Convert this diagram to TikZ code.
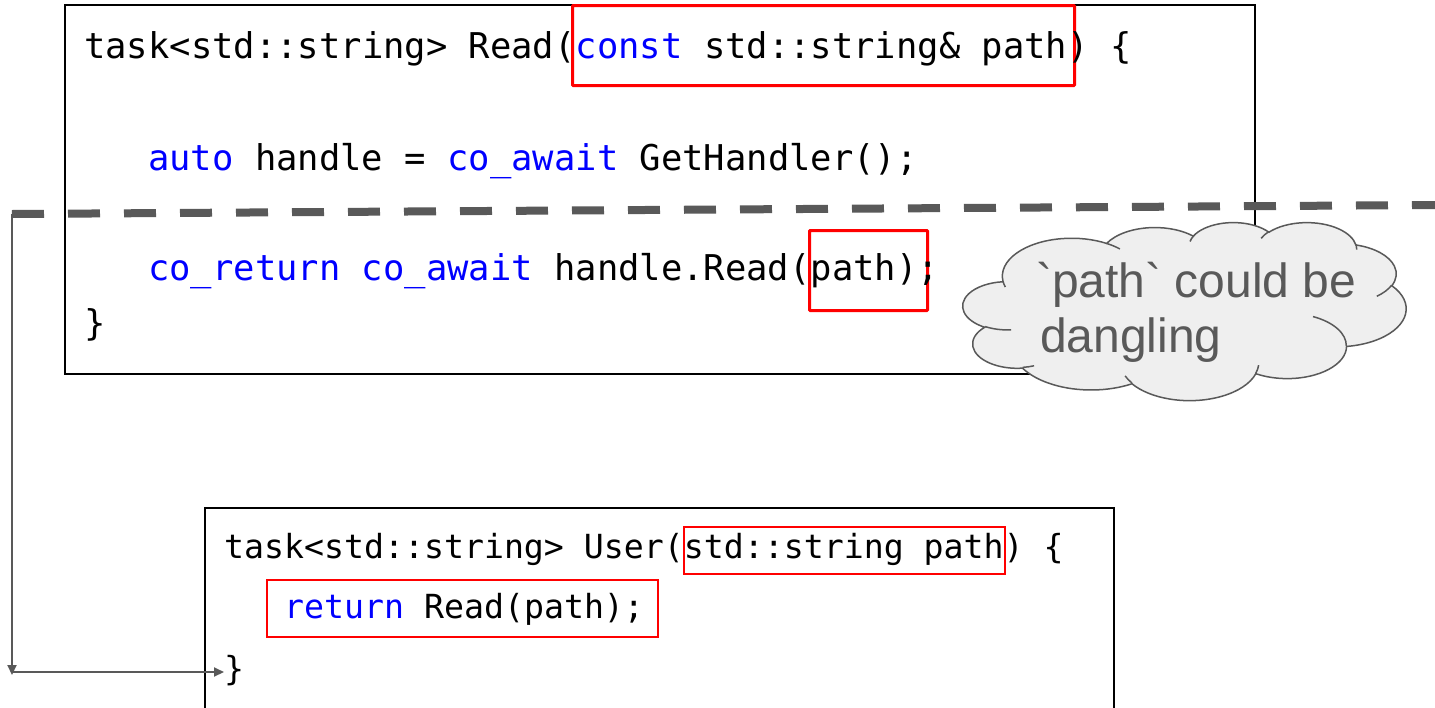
\documentclass[tikz,border=0pt]{standalone}
\usepackage{fontspec}
\usetikzlibrary{arrows.meta}
\newfontfamily\codefont{DejaVu Sans Mono}
\newfontfamily\cloudfont{Liberation Sans}
\definecolor{kw}{HTML}{0000FF}
\definecolor{dgray}{HTML}{595959}
\definecolor{cloudfill}{HTML}{EFEFEF}
\definecolor{hired}{HTML}{FF0000}
\newcommand\us{\symbol{95}}
% parametric start/end angles for an arc given by visual angles
\newcommand\ooarc[4]{%
  \pgfmathsetmacro\ooS{atan2((#1)*sin(#3),(#2)*cos(#3))}%
  \pgfmathsetmacro\ooE{atan2((#1)*sin((#3)+(#4)),(#2)*cos((#3)+(#4)))}%
  \pgfmathsetmacro\ooE{\ooE+360*ceil((\ooS-\ooE)/360)}%
}
\begin{document}
\begin{tikzpicture}[x=1pt,y=-1pt,
  codeA/.style={anchor=base west, inner sep=0pt, font=\codefont\fontsize{35.5}{40}\selectfont},
  codeB/.style={anchor=base west, inner sep=0pt, font=\codefont\fontsize{33.2}{38}\selectfont},
  codebox/.style={draw=black, line width=1.5pt, anchor=north west, inner sep=0pt},
  hlthick/.style={draw=hired, line width=3pt, anchor=north west, inner sep=0pt, rounded corners=0.8pt},
  hlthin/.style={draw=hired, line width=1.5pt, anchor=north west, inner sep=0pt},
  conn/.style={draw=dgray, line width=2pt, -{Triangle[length=10pt,width=9pt]}},
  cut/.style={draw=dgray, line width=8pt, dash pattern=on 32pt off 24pt},
  cloudline/.style={draw=dgray, line width=1.5pt},
  notetext/.style={anchor=base west, inner sep=0pt, text=dgray, font=\cloudfont\fontsize{48}{52}\selectfont}
]
\useasboundingbox (0,0) rectangle (1435,707);
\fill[white] (0,0) rectangle (1435,707);

% upper code box
\node[codebox, minimum width=1190pt, minimum height=369pt] (readbox) at (64,4) {};
\node[hlthick, minimum width=502pt, minimum height=80pt] (hlA) at (571,4) {};
\node[hlthick, minimum width=118pt, minimum height=80pt] (hlB) at (808,229) {};
\node[codeA] (r1) at (84,58) {task<std::string> Read(\textcolor{kw}{const} std::string\& path) \{};
\node[codeA] (r2) at (148,170) {\textcolor{kw}{auto} handle = \textcolor{kw}{co\us await} GetHandler();};
\node[codeA] (r3) at (148,280) {\textcolor{kw}{co\us return co\us await} handle.Read(path);};
\node[codeA] (r4) at (84,335) {\}};

% lower code box
\node[codebox, minimum width=909pt, minimum height=215pt] (userbox) at (204,507) {};
\node[hlthin, minimum width=321pt, minimum height=47pt] (hlC) at (683,526) {};
\node[hlthin, minimum width=391pt, minimum height=57pt] (hlD) at (266,579) {};
\node[codeB] (u1) at (224,558) {task<std::string> User(std::string path) \{};
\node[codeB] (u2) at (284,618) {\textcolor{kw}{return} Read(path);};
\node[codeB] (u3) at (224,680) {\}};

% connector
\coordinate (dashL) at (12,214);
\coordinate (dashR) at (1435,205);
\coordinate (corner) at (12,675);
\coordinate (cornerH) at (12,672);
\coordinate (braceIn) at (224,672);
\draw[conn] (dashL) -- (corner);
\draw[conn] (cornerH) -- (braceIn);

% suspension line
\draw[cut] (dashL) -- (dashR);

% cloud note (drawn shape)
\begin{scope}[shift={(963,222)}, x=1.02546pt, y=-0.41204pt]
  \filldraw[cloudline, fill=cloudfill] (39.00,143.70)
    \pgfextra{\ooarc{67.53}{91.90}{-190.4875}{123.7805}} arc[x radius=67.53, y radius=91.90, start angle=\ooS, end angle=\ooE]
    \pgfextra{\ooarc{53.33}{72.67}{-144.1024}{89.9452}} arc[x radius=53.33, y radius=72.67, start angle=\ooS, end angle=\ooE]
    \pgfextra{\ooarc{43.65}{59.45}{-145.8079}{99.7230}} arc[x radius=43.65, y radius=59.45, start angle=\ooS, end angle=\ooE]
    \pgfextra{\ooarc{48.57}{65.95}{-130.9861}{117.2417}} arc[x radius=48.57, y radius=65.95, start angle=\ooS, end angle=\ooE]
    \pgfextra{\ooarc{53.33}{72.73}{-78.7089}{109.0269}} arc[x radius=53.33, y radius=72.73, start angle=\ooS, end angle=\ooE]
    \pgfextra{\ooarc{67.75}{92.20}{-46.2673}{130.2690}} arc[x radius=67.75, y radius=92.20, start angle=\ooS, end angle=\ooE]
    \pgfextra{\ooarc{57.85}{78.67}{0.6250}{114.0333}} arc[x radius=57.85, y radius=78.67, start angle=\ooS, end angle=\ooE]
    \pgfextra{\ooarc{67.52}{92.15}{22.4516}{115.1726}} arc[x radius=67.52, y radius=92.15, start angle=\ooS, end angle=\ooE]
    \pgfextra{\ooarc{77.20}{105.43}{66.2426}{75.7110}} arc[x radius=77.20, y radius=105.43, start angle=\ooS, end angle=\ooE]
    \pgfextra{\ooarc{43.60}{59.18}{-274.9421}{146.7356}} arc[x radius=43.60, y radius=59.18, start angle=\ooS, end angle=\ooE]
    \pgfextra{\ooarc{43.45}{59.45}{-246.8285}{152.5189}} arc[x radius=43.45, y radius=59.45, start angle=\ooS, end angle=\ooE]
    -- cycle;
  \draw[cloudline]
    (46.93,261.77) \pgfextra{\ooarc{43.45}{59.45}{86.742}{26.4295}} arc[x radius=43.45, y radius=59.45, start angle=\ooS, end angle=\ooE]
    (69.28,348.99) \pgfextra{\ooarc{43.60}{59.18}{73.6105}{11.4475}} arc[x radius=43.60, y radius=59.18, start angle=\ooS, end angle=\ooE]
    (164.78,390.90) \pgfextra{\ooarc{67.52}{92.15}{137.6242}{14.0811}} arc[x radius=67.52, y radius=92.15, start angle=\ooS, end angle=\ooE]
    (288.27,347.51) \pgfextra{\ooarc{67.52}{92.15}{6.4533}{15.9984}} arc[x radius=67.52, y radius=92.15, start angle=\ooS, end angle=\ooE]
    (341.29,229.54) \pgfextra{\ooarc{57.85}{78.67}{-70.2924}{70.9174}} arc[x radius=57.85, y radius=78.67, start angle=\ooS, end angle=\ooE]
    (417.98,153.54) \pgfextra{\ooarc{53.33}{72.73}{30.318}{27.7515}} arc[x radius=53.33, y radius=72.73, start angle=\ooS, end angle=\ooE]
    (383.24,54.26) \pgfextra{\ooarc{48.57}{65.95}{-13.7443}{14.8589}} arc[x radius=48.57, y radius=65.95, start angle=\ooS, end angle=\ooE]
    (290.78,39.52) \pgfextra{\ooarc{48.57}{65.95}{-149.1815}{18.1954}} arc[x radius=48.57, y radius=65.95, start angle=\ooS, end angle=\ooE]
    (221.41,47.20) \pgfextra{\ooarc{43.65}{59.45}{-163.4943}{17.6864}} arc[x radius=43.65, y radius=59.45, start angle=\ooS, end angle=\ooE]
    (140.00,51.92) \pgfextra{\ooarc{67.53}{91.90}{-66.707}{12.3194}} arc[x radius=67.53, y radius=91.90, start angle=\ooS, end angle=\ooE]
    (41.27,157.89) \pgfextra{\ooarc{67.53}{91.90}{157.6544}{11.8582}} arc[x radius=67.53, y radius=91.90, start angle=\ooS, end angle=\ooE];
\end{scope}
\node[notetext] (n1) at (1036,297) {\symbol{96}path\symbol{96} could be};
\node[notetext] (n2) at (1040,352) {dangling};
\end{tikzpicture}
\end{document}
